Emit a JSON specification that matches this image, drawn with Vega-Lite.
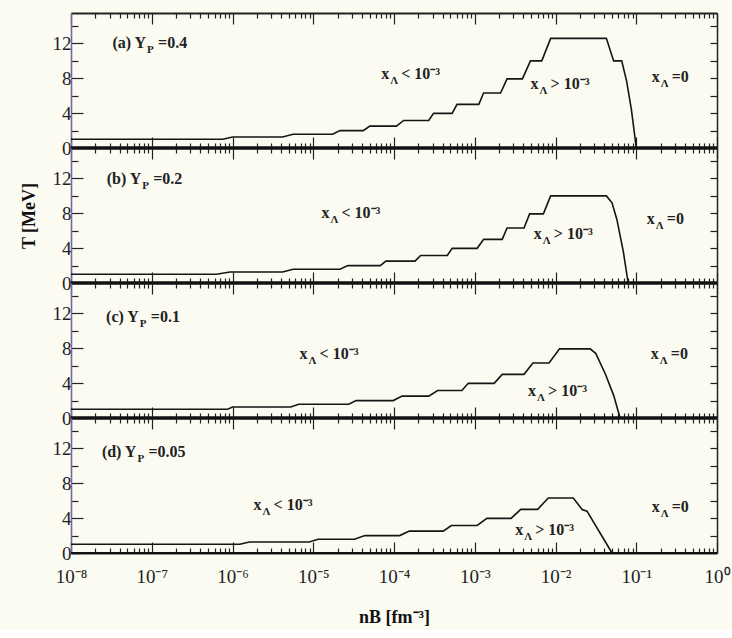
{
  "$schema": "https://vega.github.io/schema/vega-lite/v6.json",
  "background": "#fbfbf2",
  "padding": {"top": 12, "left": 20, "right": 14, "bottom": 4},
  "spacing": 0,
  "bounds": "flush",
  "config": {
    "view": {"stroke": null},
    "font": "Liberation Serif",
    "axis": {
      "grid": false,
      "labelFont": "Liberation Serif",
      "labelFontSize": 19,
      "labelColor": "#222",
      "tickColor": "#222",
      "tickWidth": 1.2,
      "domainColor": "#222",
      "titleFont": "Liberation Serif",
      "titleFontWeight": "bold",
      "titleFontSize": 18,
      "titleColor": "#111"
    }
  },
  "datasets": {
    "curves": [
      {"panel": "a", "nB": 1e-8, "T": 1.0},
      {"panel": "a", "nB": 7.586e-7, "T": 1.0},
      {"panel": "a", "nB": 1e-6, "T": 1.26},
      {"panel": "a", "nB": 4.169e-6, "T": 1.26},
      {"panel": "a", "nB": 5.623e-6, "T": 1.58},
      {"panel": "a", "nB": 1.738e-5, "T": 1.58},
      {"panel": "a", "nB": 2.138e-5, "T": 2.0},
      {"panel": "a", "nB": 4.169e-5, "T": 2.0},
      {"panel": "a", "nB": 5.012e-5, "T": 2.51},
      {"panel": "a", "nB": 1.072e-4, "T": 2.51},
      {"panel": "a", "nB": 1.318e-4, "T": 3.16},
      {"panel": "a", "nB": 2.692e-4, "T": 3.16},
      {"panel": "a", "nB": 3.090e-4, "T": 3.98},
      {"panel": "a", "nB": 5.248e-4, "T": 3.98},
      {"panel": "a", "nB": 6.026e-4, "T": 5.01},
      {"panel": "a", "nB": 1.122e-3, "T": 5.01},
      {"panel": "a", "nB": 1.288e-3, "T": 6.31},
      {"panel": "a", "nB": 2.089e-3, "T": 6.31},
      {"panel": "a", "nB": 2.512e-3, "T": 7.94},
      {"panel": "a", "nB": 3.890e-3, "T": 7.94},
      {"panel": "a", "nB": 4.898e-3, "T": 10.0},
      {"panel": "a", "nB": 6.761e-3, "T": 10.0},
      {"panel": "a", "nB": 8.710e-3, "T": 12.59},
      {"panel": "a", "nB": 4.266e-2, "T": 12.59},
      {"panel": "a", "nB": 5.248e-2, "T": 10.0},
      {"panel": "a", "nB": 6.607e-2, "T": 10.0},
      {"panel": "a", "nB": 7.586e-2, "T": 7.7},
      {"panel": "a", "nB": 8.710e-2, "T": 4.4},
      {"panel": "a", "nB": 9.550e-2, "T": 1.5},
      {"panel": "a", "nB": 0.1, "T": 0},

      {"panel": "b", "nB": 1e-8, "T": 1.0},
      {"panel": "b", "nB": 6.310e-7, "T": 1.0},
      {"panel": "b", "nB": 9.333e-7, "T": 1.26},
      {"panel": "b", "nB": 4.169e-6, "T": 1.26},
      {"panel": "b", "nB": 5.623e-6, "T": 1.58},
      {"panel": "b", "nB": 2.138e-5, "T": 1.58},
      {"panel": "b", "nB": 2.692e-5, "T": 2.0},
      {"panel": "b", "nB": 6.761e-5, "T": 2.0},
      {"panel": "b", "nB": 7.943e-5, "T": 2.51},
      {"panel": "b", "nB": 1.820e-4, "T": 2.51},
      {"panel": "b", "nB": 2.138e-4, "T": 3.16},
      {"panel": "b", "nB": 4.571e-4, "T": 3.16},
      {"panel": "b", "nB": 5.248e-4, "T": 3.98},
      {"panel": "b", "nB": 1.072e-3, "T": 3.98},
      {"panel": "b", "nB": 1.288e-3, "T": 5.01},
      {"panel": "b", "nB": 2.188e-3, "T": 5.01},
      {"panel": "b", "nB": 2.512e-3, "T": 6.31},
      {"panel": "b", "nB": 4.074e-3, "T": 6.31},
      {"panel": "b", "nB": 4.786e-3, "T": 7.94},
      {"panel": "b", "nB": 7.079e-3, "T": 7.94},
      {"panel": "b", "nB": 8.710e-3, "T": 10.0},
      {"panel": "b", "nB": 4.266e-2, "T": 10.0},
      {"panel": "b", "nB": 5.012e-2, "T": 9.2},
      {"panel": "b", "nB": 5.754e-2, "T": 7.3},
      {"panel": "b", "nB": 6.918e-2, "T": 3.6},
      {"panel": "b", "nB": 7.943e-2, "T": 0},

      {"panel": "c", "nB": 1e-8, "T": 1.0},
      {"panel": "c", "nB": 8.710e-7, "T": 1.0},
      {"panel": "c", "nB": 1e-6, "T": 1.26},
      {"panel": "c", "nB": 5.248e-6, "T": 1.26},
      {"panel": "c", "nB": 6.607e-6, "T": 1.58},
      {"panel": "c", "nB": 2.754e-5, "T": 1.58},
      {"panel": "c", "nB": 3.388e-5, "T": 2.0},
      {"panel": "c", "nB": 9.772e-5, "T": 2.0},
      {"panel": "c", "nB": 1.259e-4, "T": 2.51},
      {"panel": "c", "nB": 2.692e-4, "T": 2.51},
      {"panel": "c", "nB": 3.467e-4, "T": 3.16},
      {"panel": "c", "nB": 6.918e-4, "T": 3.16},
      {"panel": "c", "nB": 8.318e-4, "T": 3.98},
      {"panel": "c", "nB": 1.738e-3, "T": 3.98},
      {"panel": "c", "nB": 2.188e-3, "T": 5.01},
      {"panel": "c", "nB": 4.074e-3, "T": 5.01},
      {"panel": "c", "nB": 5.248e-3, "T": 6.31},
      {"panel": "c", "nB": 8.318e-3, "T": 6.31},
      {"panel": "c", "nB": 1.122e-2, "T": 7.94},
      {"panel": "c", "nB": 2.692e-2, "T": 7.94},
      {"panel": "c", "nB": 3.162e-2, "T": 7.4},
      {"panel": "c", "nB": 4.169e-2, "T": 5.0},
      {"panel": "c", "nB": 5.248e-2, "T": 2.6},
      {"panel": "c", "nB": 6.310e-2, "T": 0},

      {"panel": "d", "nB": 1e-8, "T": 1.0},
      {"panel": "d", "nB": 1.230e-6, "T": 1.0},
      {"panel": "d", "nB": 1.622e-6, "T": 1.26},
      {"panel": "d", "nB": 8.913e-6, "T": 1.26},
      {"panel": "d", "nB": 1.148e-5, "T": 1.58},
      {"panel": "d", "nB": 3.236e-5, "T": 1.58},
      {"panel": "d", "nB": 4.365e-5, "T": 2.0},
      {"panel": "d", "nB": 1.175e-4, "T": 2.0},
      {"panel": "d", "nB": 1.549e-4, "T": 2.51},
      {"panel": "d", "nB": 4.074e-4, "T": 2.51},
      {"panel": "d", "nB": 5.129e-4, "T": 3.16},
      {"panel": "d", "nB": 1.072e-3, "T": 3.16},
      {"panel": "d", "nB": 1.413e-3, "T": 3.98},
      {"panel": "d", "nB": 2.818e-3, "T": 3.98},
      {"panel": "d", "nB": 3.715e-3, "T": 5.01},
      {"panel": "d", "nB": 6.026e-3, "T": 5.01},
      {"panel": "d", "nB": 8.128e-3, "T": 6.31},
      {"panel": "d", "nB": 1.660e-2, "T": 6.31},
      {"panel": "d", "nB": 2.138e-2, "T": 5.0},
      {"panel": "d", "nB": 2.455e-2, "T": 4.8},
      {"panel": "d", "nB": 5.012e-2, "T": 0}
    ],
    "labels": [
      {"panel": "a", "nB": 8.511e-8, "T": 12.0, "pre": "(a) Y", "sub": "P", "post": "=0.4"},
      {"panel": "a", "nB": 8.710e-5, "T": 8.5, "pre": "x", "sub": "Λ", "post": "< 10⁻³"},
      {"panel": "a", "nB": 6.166e-3, "T": 7.3, "pre": "x", "sub": "Λ", "post": "> 10⁻³"},
      {"panel": "a", "nB": 0.1950, "T": 8.2, "pre": "x", "sub": "Λ", "post": "=0"},
      {"panel": "b", "nB": 7.413e-8, "T": 11.9, "pre": "(b) Y", "sub": "P", "post": "=0.2"},
      {"panel": "b", "nB": 1.585e-5, "T": 8.0, "pre": "x", "sub": "Λ", "post": "< 10⁻³"},
      {"panel": "b", "nB": 6.761e-3, "T": 5.6, "pre": "x", "sub": "Λ", "post": "> 10⁻³"},
      {"panel": "b", "nB": 0.1698, "T": 7.3, "pre": "x", "sub": "Λ", "post": "=0"},
      {"panel": "c", "nB": 6.918e-8, "T": 11.6, "pre": "(c) Y", "sub": "P", "post": "=0.1"},
      {"panel": "c", "nB": 8.511e-6, "T": 7.35, "pre": "x", "sub": "Λ", "post": "< 10⁻³"},
      {"panel": "c", "nB": 5.754e-3, "T": 3.1, "pre": "x", "sub": "Λ", "post": "> 10⁻³"},
      {"panel": "c", "nB": 0.1905, "T": 7.35, "pre": "x", "sub": "Λ", "post": "=0"},
      {"panel": "d", "nB": 6.457e-8, "T": 11.6, "pre": "(d) Y", "sub": "P", "post": "=0.05"},
      {"panel": "d", "nB": 2.291e-6, "T": 5.5, "pre": "x", "sub": "Λ", "post": "< 10⁻³"},
      {"panel": "d", "nB": 3.981e-3, "T": 2.6, "pre": "x", "sub": "Λ", "post": "> 10⁻³"},
      {"panel": "d", "nB": 0.1950, "T": 5.3, "pre": "x", "sub": "Λ", "post": "=0"}
    ]
  },
  "vconcat": [
    {
      "width": 646, "height": 135,
      "resolve": {"axis": {"x": "independent", "y": "independent"}},
      "layer": [
        {
          "data": {"name": "curves"},
          "transform": [{"filter": "datum.panel == 'a'"}],
          "mark": {"type": "line", "color": "#151515", "strokeWidth": 1.6},
          "encoding": {
            "x": {"field": "nB", "type": "quantitative", "scale": {"type": "log", "domain": [1e-8, 1]},
              "axis": {"orient": "bottom", "values": [1e-8,2e-8,3e-8,4e-8,5e-8,6e-8,7e-8,8e-8,9e-8,1e-7,2e-7,3e-7,4e-7,5e-7,6e-7,7e-7,8e-7,9e-7,1e-6,2e-6,3e-6,4e-6,5e-6,6e-6,7e-6,8e-6,9e-6,1e-5,2e-5,3e-5,4e-5,5e-5,6e-5,7e-5,8e-5,9e-5,1e-4,2e-4,3e-4,4e-4,5e-4,6e-4,7e-4,8e-4,9e-4,1e-3,2e-3,3e-3,4e-3,5e-3,6e-3,7e-3,8e-3,9e-3,0.01,0.02,0.03,0.04,0.05,0.06,0.07,0.08,0.09,0.1,0.2,0.3,0.4,0.5,0.6,0.7,0.8,0.9,1],
                "labels": false, "title": null, "domain": false,
                "tickSize": {"condition": {"test": "abs(log(datum.value)/LN10 - round(log(datum.value)/LN10)) < 0.01", "value": -11}, "value": -5}}},
            "y": {"field": "T", "type": "quantitative", "scale": {"domain": [0, 15.5], "nice": false},
              "axis": {"orient": "left", "values": [0,2,4,6,8,10,12,14], "labelExpr": "datum.value % 4 == 0 ? datum.label : ''", "title": null, "labelPadding": 12,
                "domainColor": "#75679f", "domainWidth": 1.6,
                "tickSize": {"condition": {"test": "datum.value % 4 == 0", "value": -12}, "value": -7}}}
          }
        },
        {
          "data": {"name": "curves"},
          "transform": [{"filter": "datum.panel == 'a'"}],
          "mark": {"type": "line", "opacity": 0},
          "encoding": {
            "x": {"field": "nB", "type": "quantitative", "scale": {"type": "log", "domain": [1e-8, 1]},
              "axis": {"orient": "top", "values": [1e-8,2e-8,3e-8,4e-8,5e-8,6e-8,7e-8,8e-8,9e-8,1e-7,2e-7,3e-7,4e-7,5e-7,6e-7,7e-7,8e-7,9e-7,1e-6,2e-6,3e-6,4e-6,5e-6,6e-6,7e-6,8e-6,9e-6,1e-5,2e-5,3e-5,4e-5,5e-5,6e-5,7e-5,8e-5,9e-5,1e-4,2e-4,3e-4,4e-4,5e-4,6e-4,7e-4,8e-4,9e-4,1e-3,2e-3,3e-3,4e-3,5e-3,6e-3,7e-3,8e-3,9e-3,0.01,0.02,0.03,0.04,0.05,0.06,0.07,0.08,0.09,0.1,0.2,0.3,0.4,0.5,0.6,0.7,0.8,0.9,1],
                "labels": false, "title": null, "domain": true, "domainWidth": 2,
                "tickSize": {"condition": {"test": "abs(log(datum.value)/LN10 - round(log(datum.value)/LN10)) < 0.01", "value": -11}, "value": -5}}},
            "y": {"field": "T", "type": "quantitative", "scale": {"domain": [0, 15.5], "nice": false},
              "axis": {"orient": "right", "values": [2,4,6,8,10,12,14], "labels": false, "title": null, "domainWidth": 1.5, "tickSize": -7}}
          }
        },
        {
          "data": {"values": [{}]},
          "mark": {"type": "rule", "strokeWidth": 3.5, "color": "#111"},
          "encoding": {"y": {"datum": 0, "type": "quantitative", "axis": null}}
        },
        {
          "data": {"name": "labels"},
          "transform": [{"filter": "datum.panel == 'a'"}],
          "mark": {"type": "text", "align": "right", "baseline": "middle", "fontSize": 16, "fontWeight": "bold", "font": "Liberation Serif", "color": "#222"},
          "encoding": {
            "x": {"field": "nB", "type": "quantitative", "scale": {"type": "log", "domain": [1e-8, 1]}, "axis": null},
            "y": {"field": "T", "type": "quantitative", "axis": null},
            "text": {"field": "pre"}
          }
        },
        {
          "data": {"name": "labels"},
          "transform": [{"filter": "datum.panel == 'a'"}],
          "mark": {"type": "text", "align": "left", "baseline": "middle", "dx": 1, "dy": 7, "fontSize": 11, "fontWeight": "bold", "font": "Liberation Serif", "color": "#222"},
          "encoding": {
            "x": {"field": "nB", "type": "quantitative", "scale": {"type": "log", "domain": [1e-8, 1]}, "axis": null},
            "y": {"field": "T", "type": "quantitative", "axis": null},
            "text": {"field": "sub"}
          }
        },
        {
          "data": {"name": "labels"},
          "transform": [{"filter": "datum.panel == 'a'"}],
          "mark": {"type": "text", "align": "left", "baseline": "middle", "dx": 12, "fontSize": 16, "fontWeight": "bold", "font": "Liberation Serif", "color": "#222"},
          "encoding": {
            "x": {"field": "nB", "type": "quantitative", "scale": {"type": "log", "domain": [1e-8, 1]}, "axis": null},
            "y": {"field": "T", "type": "quantitative", "axis": null},
            "text": {"field": "post"}
          }
        }
      ]
    },
    {
      "width": 646, "height": 135,
      "resolve": {"axis": {"x": "independent", "y": "independent"}},
      "layer": [
        {
          "data": {"name": "curves"},
          "transform": [{"filter": "datum.panel == 'b'"}],
          "mark": {"type": "line", "color": "#151515", "strokeWidth": 1.6},
          "encoding": {
            "x": {"field": "nB", "type": "quantitative", "scale": {"type": "log", "domain": [1e-8, 1]},
              "axis": {"orient": "bottom", "values": [1e-8,2e-8,3e-8,4e-8,5e-8,6e-8,7e-8,8e-8,9e-8,1e-7,2e-7,3e-7,4e-7,5e-7,6e-7,7e-7,8e-7,9e-7,1e-6,2e-6,3e-6,4e-6,5e-6,6e-6,7e-6,8e-6,9e-6,1e-5,2e-5,3e-5,4e-5,5e-5,6e-5,7e-5,8e-5,9e-5,1e-4,2e-4,3e-4,4e-4,5e-4,6e-4,7e-4,8e-4,9e-4,1e-3,2e-3,3e-3,4e-3,5e-3,6e-3,7e-3,8e-3,9e-3,0.01,0.02,0.03,0.04,0.05,0.06,0.07,0.08,0.09,0.1,0.2,0.3,0.4,0.5,0.6,0.7,0.8,0.9,1],
                "labels": false, "title": null, "domain": false,
                "tickSize": {"condition": {"test": "abs(log(datum.value)/LN10 - round(log(datum.value)/LN10)) < 0.01", "value": -11}, "value": -5}}},
            "y": {"field": "T", "type": "quantitative", "scale": {"domain": [0, 15.5], "nice": false},
              "axis": {"orient": "left", "values": [0,2,4,6,8,10,12,14], "labelExpr": "datum.value % 4 == 0 ? datum.label : ''", "title": "T [MeV]", "titlePadding": 14, "labelPadding": 12,
                "domainColor": "#75679f", "domainWidth": 1.6,
                "tickSize": {"condition": {"test": "datum.value % 4 == 0", "value": -12}, "value": -7}}}
          }
        },
        {
          "data": {"name": "curves"},
          "transform": [{"filter": "datum.panel == 'b'"}],
          "mark": {"type": "line", "opacity": 0},
          "encoding": {
            "x": {"field": "nB", "type": "quantitative", "scale": {"type": "log", "domain": [1e-8, 1]},
              "axis": {"orient": "top", "values": [1e-8,2e-8,3e-8,4e-8,5e-8,6e-8,7e-8,8e-8,9e-8,1e-7,2e-7,3e-7,4e-7,5e-7,6e-7,7e-7,8e-7,9e-7,1e-6,2e-6,3e-6,4e-6,5e-6,6e-6,7e-6,8e-6,9e-6,1e-5,2e-5,3e-5,4e-5,5e-5,6e-5,7e-5,8e-5,9e-5,1e-4,2e-4,3e-4,4e-4,5e-4,6e-4,7e-4,8e-4,9e-4,1e-3,2e-3,3e-3,4e-3,5e-3,6e-3,7e-3,8e-3,9e-3,0.01,0.02,0.03,0.04,0.05,0.06,0.07,0.08,0.09,0.1,0.2,0.3,0.4,0.5,0.6,0.7,0.8,0.9,1],
                "labels": false, "title": null, "domain": false,
                "tickSize": {"condition": {"test": "abs(log(datum.value)/LN10 - round(log(datum.value)/LN10)) < 0.01", "value": -11}, "value": -5}}},
            "y": {"field": "T", "type": "quantitative", "scale": {"domain": [0, 15.5], "nice": false},
              "axis": {"orient": "right", "values": [2,4,6,8,10,12,14], "labels": false, "title": null, "domainWidth": 1.5, "tickSize": -7}}
          }
        },
        {
          "data": {"values": [{}]},
          "mark": {"type": "rule", "strokeWidth": 3.5, "color": "#111"},
          "encoding": {"y": {"datum": 0, "type": "quantitative", "axis": null}}
        },
        {
          "data": {"name": "labels"},
          "transform": [{"filter": "datum.panel == 'b'"}],
          "mark": {"type": "text", "align": "right", "baseline": "middle", "fontSize": 16, "fontWeight": "bold", "font": "Liberation Serif", "color": "#222"},
          "encoding": {
            "x": {"field": "nB", "type": "quantitative", "scale": {"type": "log", "domain": [1e-8, 1]}, "axis": null},
            "y": {"field": "T", "type": "quantitative", "axis": null},
            "text": {"field": "pre"}
          }
        },
        {
          "data": {"name": "labels"},
          "transform": [{"filter": "datum.panel == 'b'"}],
          "mark": {"type": "text", "align": "left", "baseline": "middle", "dx": 1, "dy": 7, "fontSize": 11, "fontWeight": "bold", "font": "Liberation Serif", "color": "#222"},
          "encoding": {
            "x": {"field": "nB", "type": "quantitative", "scale": {"type": "log", "domain": [1e-8, 1]}, "axis": null},
            "y": {"field": "T", "type": "quantitative", "axis": null},
            "text": {"field": "sub"}
          }
        },
        {
          "data": {"name": "labels"},
          "transform": [{"filter": "datum.panel == 'b'"}],
          "mark": {"type": "text", "align": "left", "baseline": "middle", "dx": 12, "fontSize": 16, "fontWeight": "bold", "font": "Liberation Serif", "color": "#222"},
          "encoding": {
            "x": {"field": "nB", "type": "quantitative", "scale": {"type": "log", "domain": [1e-8, 1]}, "axis": null},
            "y": {"field": "T", "type": "quantitative", "axis": null},
            "text": {"field": "post"}
          }
        }
      ]
    },
    {
      "width": 646, "height": 135,
      "resolve": {"axis": {"x": "independent", "y": "independent"}},
      "layer": [
        {
          "data": {"name": "curves"},
          "transform": [{"filter": "datum.panel == 'c'"}],
          "mark": {"type": "line", "color": "#151515", "strokeWidth": 1.6},
          "encoding": {
            "x": {"field": "nB", "type": "quantitative", "scale": {"type": "log", "domain": [1e-8, 1]},
              "axis": {"orient": "bottom", "values": [1e-8,2e-8,3e-8,4e-8,5e-8,6e-8,7e-8,8e-8,9e-8,1e-7,2e-7,3e-7,4e-7,5e-7,6e-7,7e-7,8e-7,9e-7,1e-6,2e-6,3e-6,4e-6,5e-6,6e-6,7e-6,8e-6,9e-6,1e-5,2e-5,3e-5,4e-5,5e-5,6e-5,7e-5,8e-5,9e-5,1e-4,2e-4,3e-4,4e-4,5e-4,6e-4,7e-4,8e-4,9e-4,1e-3,2e-3,3e-3,4e-3,5e-3,6e-3,7e-3,8e-3,9e-3,0.01,0.02,0.03,0.04,0.05,0.06,0.07,0.08,0.09,0.1,0.2,0.3,0.4,0.5,0.6,0.7,0.8,0.9,1],
                "labels": false, "title": null, "domain": false,
                "tickSize": {"condition": {"test": "abs(log(datum.value)/LN10 - round(log(datum.value)/LN10)) < 0.01", "value": -11}, "value": -5}}},
            "y": {"field": "T", "type": "quantitative", "scale": {"domain": [0, 15.5], "nice": false},
              "axis": {"orient": "left", "values": [0,2,4,6,8,10,12,14], "labelExpr": "datum.value % 4 == 0 ? datum.label : ''", "title": null, "labelPadding": 12,
                "domainColor": "#75679f", "domainWidth": 1.6,
                "tickSize": {"condition": {"test": "datum.value % 4 == 0", "value": -12}, "value": -7}}}
          }
        },
        {
          "data": {"name": "curves"},
          "transform": [{"filter": "datum.panel == 'c'"}],
          "mark": {"type": "line", "opacity": 0},
          "encoding": {
            "x": {"field": "nB", "type": "quantitative", "scale": {"type": "log", "domain": [1e-8, 1]},
              "axis": {"orient": "top", "values": [1e-8,2e-8,3e-8,4e-8,5e-8,6e-8,7e-8,8e-8,9e-8,1e-7,2e-7,3e-7,4e-7,5e-7,6e-7,7e-7,8e-7,9e-7,1e-6,2e-6,3e-6,4e-6,5e-6,6e-6,7e-6,8e-6,9e-6,1e-5,2e-5,3e-5,4e-5,5e-5,6e-5,7e-5,8e-5,9e-5,1e-4,2e-4,3e-4,4e-4,5e-4,6e-4,7e-4,8e-4,9e-4,1e-3,2e-3,3e-3,4e-3,5e-3,6e-3,7e-3,8e-3,9e-3,0.01,0.02,0.03,0.04,0.05,0.06,0.07,0.08,0.09,0.1,0.2,0.3,0.4,0.5,0.6,0.7,0.8,0.9,1],
                "labels": false, "title": null, "domain": false,
                "tickSize": {"condition": {"test": "abs(log(datum.value)/LN10 - round(log(datum.value)/LN10)) < 0.01", "value": -11}, "value": -5}}},
            "y": {"field": "T", "type": "quantitative", "scale": {"domain": [0, 15.5], "nice": false},
              "axis": {"orient": "right", "values": [2,4,6,8,10,12,14], "labels": false, "title": null, "domainWidth": 1.5, "tickSize": -7}}
          }
        },
        {
          "data": {"values": [{}]},
          "mark": {"type": "rule", "strokeWidth": 3.5, "color": "#111"},
          "encoding": {"y": {"datum": 0, "type": "quantitative", "axis": null}}
        },
        {
          "data": {"name": "labels"},
          "transform": [{"filter": "datum.panel == 'c'"}],
          "mark": {"type": "text", "align": "right", "baseline": "middle", "fontSize": 16, "fontWeight": "bold", "font": "Liberation Serif", "color": "#222"},
          "encoding": {
            "x": {"field": "nB", "type": "quantitative", "scale": {"type": "log", "domain": [1e-8, 1]}, "axis": null},
            "y": {"field": "T", "type": "quantitative", "axis": null},
            "text": {"field": "pre"}
          }
        },
        {
          "data": {"name": "labels"},
          "transform": [{"filter": "datum.panel == 'c'"}],
          "mark": {"type": "text", "align": "left", "baseline": "middle", "dx": 1, "dy": 7, "fontSize": 11, "fontWeight": "bold", "font": "Liberation Serif", "color": "#222"},
          "encoding": {
            "x": {"field": "nB", "type": "quantitative", "scale": {"type": "log", "domain": [1e-8, 1]}, "axis": null},
            "y": {"field": "T", "type": "quantitative", "axis": null},
            "text": {"field": "sub"}
          }
        },
        {
          "data": {"name": "labels"},
          "transform": [{"filter": "datum.panel == 'c'"}],
          "mark": {"type": "text", "align": "left", "baseline": "middle", "dx": 12, "fontSize": 16, "fontWeight": "bold", "font": "Liberation Serif", "color": "#222"},
          "encoding": {
            "x": {"field": "nB", "type": "quantitative", "scale": {"type": "log", "domain": [1e-8, 1]}, "axis": null},
            "y": {"field": "T", "type": "quantitative", "axis": null},
            "text": {"field": "post"}
          }
        }
      ]
    },
    {
      "width": 646, "height": 135,
      "resolve": {"axis": {"x": "independent", "y": "independent"}},
      "layer": [
        {
          "data": {"name": "curves"},
          "transform": [{"filter": "datum.panel == 'd'"}],
          "mark": {"type": "line", "color": "#151515", "strokeWidth": 1.6},
          "encoding": {
            "x": {"field": "nB", "type": "quantitative", "scale": {"type": "log", "domain": [1e-8, 1]},
              "axis": {"orient": "bottom", "values": [1e-8,2e-8,3e-8,4e-8,5e-8,6e-8,7e-8,8e-8,9e-8,1e-7,2e-7,3e-7,4e-7,5e-7,6e-7,7e-7,8e-7,9e-7,1e-6,2e-6,3e-6,4e-6,5e-6,6e-6,7e-6,8e-6,9e-6,1e-5,2e-5,3e-5,4e-5,5e-5,6e-5,7e-5,8e-5,9e-5,1e-4,2e-4,3e-4,4e-4,5e-4,6e-4,7e-4,8e-4,9e-4,1e-3,2e-3,3e-3,4e-3,5e-3,6e-3,7e-3,8e-3,9e-3,0.01,0.02,0.03,0.04,0.05,0.06,0.07,0.08,0.09,0.1,0.2,0.3,0.4,0.5,0.6,0.7,0.8,0.9,1],
                "labelExpr": "abs(log(datum.value)/LN10 - round(log(datum.value)/LN10)) < 0.01 ? ['10⁻⁸','10⁻⁷','10⁻⁶','10⁻⁵','10⁻⁴','10⁻³','10⁻²','10⁻¹','10⁰'][round(log(datum.value)/LN10) + 8] : ''",
                "labelPadding": 25, "labelFlush": false, "labelOverlap": false,
                "title": "nB [fm⁻³]", "titlePadding": 16, "domain": true, "domainWidth": 2,
                "tickSize": {"condition": {"test": "abs(log(datum.value)/LN10 - round(log(datum.value)/LN10)) < 0.01", "value": -11}, "value": -5}}},
            "y": {"field": "T", "type": "quantitative", "scale": {"domain": [0, 15.5], "nice": false},
              "axis": {"orient": "left", "values": [0,2,4,6,8,10,12,14], "labelExpr": "datum.value % 4 == 0 ? datum.label : ''", "title": null, "labelPadding": 12,
                "domainColor": "#75679f", "domainWidth": 1.6,
                "tickSize": {"condition": {"test": "datum.value % 4 == 0", "value": -12}, "value": -7}}}
          }
        },
        {
          "data": {"name": "curves"},
          "transform": [{"filter": "datum.panel == 'd'"}],
          "mark": {"type": "line", "opacity": 0},
          "encoding": {
            "x": {"field": "nB", "type": "quantitative", "scale": {"type": "log", "domain": [1e-8, 1]},
              "axis": {"orient": "top", "values": [1e-8,2e-8,3e-8,4e-8,5e-8,6e-8,7e-8,8e-8,9e-8,1e-7,2e-7,3e-7,4e-7,5e-7,6e-7,7e-7,8e-7,9e-7,1e-6,2e-6,3e-6,4e-6,5e-6,6e-6,7e-6,8e-6,9e-6,1e-5,2e-5,3e-5,4e-5,5e-5,6e-5,7e-5,8e-5,9e-5,1e-4,2e-4,3e-4,4e-4,5e-4,6e-4,7e-4,8e-4,9e-4,1e-3,2e-3,3e-3,4e-3,5e-3,6e-3,7e-3,8e-3,9e-3,0.01,0.02,0.03,0.04,0.05,0.06,0.07,0.08,0.09,0.1,0.2,0.3,0.4,0.5,0.6,0.7,0.8,0.9,1],
                "labels": false, "title": null, "domain": false,
                "tickSize": {"condition": {"test": "abs(log(datum.value)/LN10 - round(log(datum.value)/LN10)) < 0.01", "value": -11}, "value": -5}}},
            "y": {"field": "T", "type": "quantitative", "scale": {"domain": [0, 15.5], "nice": false},
              "axis": {"orient": "right", "values": [2,4,6,8,10,12,14], "labels": false, "title": null, "domainWidth": 1.5, "tickSize": -7}}
          }
        },
        {
          "data": {"values": [{}]},
          "mark": {"type": "rule", "strokeWidth": 2, "color": "#111"},
          "encoding": {"y": {"datum": 0, "type": "quantitative", "axis": null}}
        },
        {
          "data": {"name": "labels"},
          "transform": [{"filter": "datum.panel == 'd'"}],
          "mark": {"type": "text", "align": "right", "baseline": "middle", "fontSize": 16, "fontWeight": "bold", "font": "Liberation Serif", "color": "#222"},
          "encoding": {
            "x": {"field": "nB", "type": "quantitative", "scale": {"type": "log", "domain": [1e-8, 1]}, "axis": null},
            "y": {"field": "T", "type": "quantitative", "axis": null},
            "text": {"field": "pre"}
          }
        },
        {
          "data": {"name": "labels"},
          "transform": [{"filter": "datum.panel == 'd'"}],
          "mark": {"type": "text", "align": "left", "baseline": "middle", "dx": 1, "dy": 7, "fontSize": 11, "fontWeight": "bold", "font": "Liberation Serif", "color": "#222"},
          "encoding": {
            "x": {"field": "nB", "type": "quantitative", "scale": {"type": "log", "domain": [1e-8, 1]}, "axis": null},
            "y": {"field": "T", "type": "quantitative", "axis": null},
            "text": {"field": "sub"}
          }
        },
        {
          "data": {"name": "labels"},
          "transform": [{"filter": "datum.panel == 'd'"}],
          "mark": {"type": "text", "align": "left", "baseline": "middle", "dx": 12, "fontSize": 16, "fontWeight": "bold", "font": "Liberation Serif", "color": "#222"},
          "encoding": {
            "x": {"field": "nB", "type": "quantitative", "scale": {"type": "log", "domain": [1e-8, 1]}, "axis": null},
            "y": {"field": "T", "type": "quantitative", "axis": null},
            "text": {"field": "post"}
          }
        }
      ]
    }
  ]
}
